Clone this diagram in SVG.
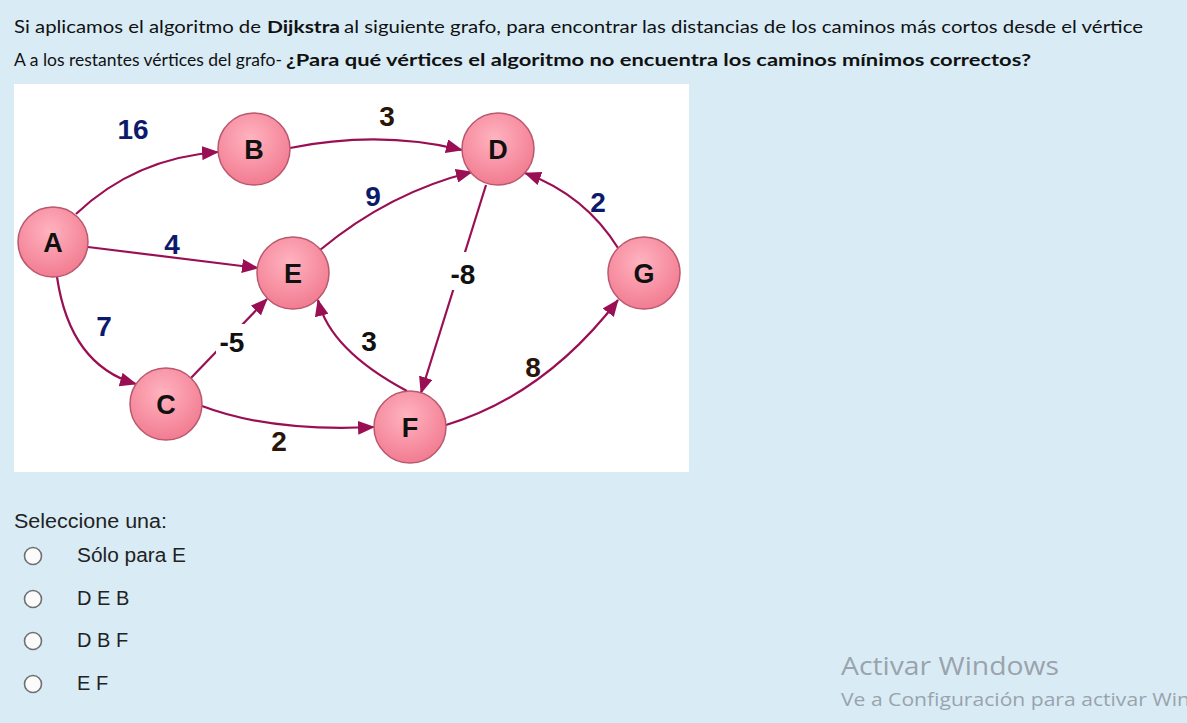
<svg xmlns="http://www.w3.org/2000/svg" width="1187" height="723" viewBox="0 0 1187 723">
<defs>
<radialGradient id="ng" cx="45%" cy="35%" r="65%">
<stop offset="0" stop-color="#ffb3c0"/>
<stop offset="1" stop-color="#f27c91"/>
</radialGradient>
<marker id="ah" markerWidth="17" markerHeight="14" refX="16" refY="7" orient="auto" markerUnits="userSpaceOnUse">
<path d="M0,0 L17,7 L0,14 z" fill="#9a0f54"/>
</marker>
<style>
.q{font-family:Lato,"Open Sans","Liberation Sans",sans-serif;font-size:17px;fill:#111}
.b{font-weight:bold}
.node circle{fill:url(#ng);stroke:#b9586e;stroke-width:1.5}
.node text{font-family:"Liberation Sans",Arial,sans-serif;font-weight:bold;font-size:27px;fill:#111;text-anchor:middle}
.edges path{fill:none;stroke:#9a0f54;stroke-width:2.2;marker-end:url(#ah)}
.lbl{font-family:"Liberation Sans",Arial,sans-serif;font-weight:bold;font-size:28px;text-anchor:middle}
.nv{fill:#0d1a6c}
.dk{fill:#2a1508}
.opt{font-family:"Liberation Sans",Arial,sans-serif;font-size:20px;fill:#222}
.rb{fill:#fbfbfb;stroke:#707070;stroke-width:1.6}
</style>
</defs>
<rect width="1187" height="723" fill="#d9ecf6"/>
<text class="q" x="14" y="33" textLength="247" lengthAdjust="spacingAndGlyphs">Si aplicamos el algoritmo de</text>
<text class="q b" x="267" y="33" textLength="73" lengthAdjust="spacingAndGlyphs">Dijkstra</text>
<text class="q" x="344" y="33" textLength="799" lengthAdjust="spacingAndGlyphs">al siguiente grafo, para encontrar las distancias de los caminos más cortos desde el vértice</text>
<text class="q" x="14" y="66" textLength="268" lengthAdjust="spacingAndGlyphs">A a los restantes vértices del grafo-</text>
<text class="q b" x="286" y="66" textLength="745" lengthAdjust="spacingAndGlyphs">¿Para qué vértices el algoritmo no encuentra los caminos mínimos correctos?</text>
<rect x="14" y="84" width="675" height="388" fill="#ffffff"/>
<g class="edges">
<path d="M76,214 Q135,158 218,152"/>
<path d="M290,148 Q380,130 462,150"/>
<path d="M88,247 L258,268"/>
<path d="M320,250 Q390,192 472,172"/>
<path d="M486,185 L421,393"/>
<path d="M618,248 Q585,195 525,173"/>
<path d="M57,277 Q70,365 136,384"/>
<path d="M190,379 L267,299"/>
<path d="M407,391 Q330,350 318,300"/>
<path d="M202,406 Q270,432 374,427"/>
<path d="M446,425 Q545,395 618,300"/>
</g>
<g id="labels">
<rect x="446" y="252" width="32" height="38" fill="#ffffff"/>
<rect x="216" y="324" width="30" height="30" fill="#ffffff"/>
<text class="lbl nv" x="133" y="139">16</text>
<text class="lbl dk" x="387" y="126">3</text>
<text class="lbl nv" x="172" y="254">4</text>
<text class="lbl nv" x="373" y="206">9</text>
<text class="lbl nv" x="598" y="212">2</text>
<text class="lbl" x="463" y="284" fill="#111">-8</text>
<text class="lbl nv" x="104" y="336">7</text>
<text class="lbl" x="232" y="352" fill="#111">-5</text>
<text class="lbl" x="369" y="351" fill="#111">3</text>
<text class="lbl dk" x="533" y="377">8</text>
<text class="lbl dk" x="279" y="451">2</text>
</g>
<g id="A" class="node"><circle cx="53" cy="242" r="35"/><text x="53" y="252">A</text></g>
<g id="B" class="node"><circle cx="254" cy="149" r="36"/><text x="254" y="159">B</text></g>
<g id="D" class="node"><circle cx="498" cy="149" r="36"/><text x="498" y="159">D</text></g>
<g id="E" class="node"><circle cx="293" cy="273" r="36"/><text x="293" y="283">E</text></g>
<g id="G" class="node"><circle cx="644" cy="273" r="36"/><text x="644" y="283">G</text></g>
<g id="C" class="node"><circle cx="166" cy="404" r="36"/><text x="166" y="414">C</text></g>
<g id="F" class="node"><circle cx="410" cy="427" r="36"/><text x="410" y="437">F</text></g>
<text class="opt" x="14" y="528" fill="#333" textLength="153" lengthAdjust="spacingAndGlyphs">Seleccione una:</text>
<circle class="rb" cx="33" cy="556" r="8.5"/>
<text class="opt" x="77" y="562" textLength="109" lengthAdjust="spacingAndGlyphs">Sólo para E</text>
<circle class="rb" cx="33" cy="599" r="8.5"/>
<text class="opt" x="77" y="605">D E B</text>
<circle class="rb" cx="33" cy="641" r="8.5"/>
<text class="opt" x="77" y="647">D B F</text>
<circle class="rb" cx="33" cy="684" r="8.5"/>
<text class="opt" x="77" y="690">E F</text>
<text x="841" y="675" font-family="'Open Sans','Liberation Sans',sans-serif" font-size="26" fill="#9aa3ac" textLength="218" lengthAdjust="spacingAndGlyphs">Activar Windows</text>
<text x="841" y="706" font-family="'Open Sans','Liberation Sans',sans-serif" font-size="18" fill="#9aa3ac" textLength="349" lengthAdjust="spacingAndGlyphs">Ve a Configuración para activar Win</text>
</svg>
